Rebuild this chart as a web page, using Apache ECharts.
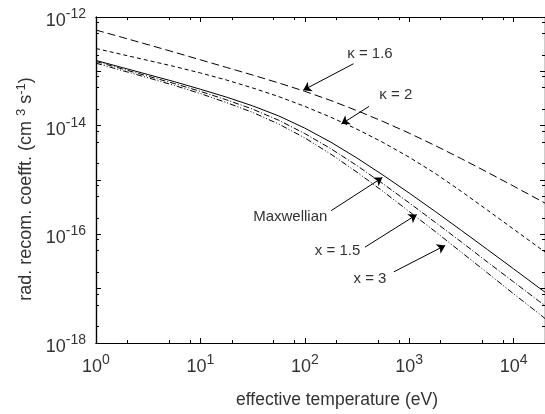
<!DOCTYPE html>
<html>
<head>
<meta charset="utf-8">
<script src="https://cdn.jsdelivr.net/npm/echarts@6/dist/echarts.min.js"></script>
<style>html,body{margin:0;padding:0;background:#fff}#c{width:545px;height:414px}</style>
</head>
<body>
<div id="c"></div>
<script>
// effective temperature (eV)
const temperature = [1, 1.78, 3.16, 5.62, 10, 17.8, 31.6, 56.2, 100, 178, 316, 562,
                     1000, 1780, 3160, 5620, 10000, 17800, 20000];
// radiative recombination coefficient (cm^3 s^-1)
const maxwellian = [1.585e-13, 1.175e-13, 8.71e-14, 6.46e-14, 4.68e-14, 3.35e-14, 2.317e-14, 1.514e-14,
                    9.02e-15, 4.955e-15, 2.54e-15, 1.23e-15, 5.75e-16, 2.63e-16, 1.181e-16, 5.25e-17,
                    2.317e-17, 1.017e-17, 8.63e-18];
const x15 = [1.514e-13, 1.109e-13, 8.13e-14, 5.96e-14, 4.27e-14, 2.985e-14, 2.018e-14, 1.259e-14,
             7.16e-15, 3.76e-15, 1.841e-15, 8.51e-16, 3.80e-16, 1.66e-16, 7.24e-17, 3.09e-17,
             1.334e-17, 5.75e-18, 4.90e-18];
const x3 = [1.413e-13, 1.035e-13, 7.59e-14, 5.50e-14, 3.89e-14, 2.66e-14, 1.758e-14, 1.072e-14,
            5.96e-15, 2.985e-15, 1.396e-15, 6.17e-16, 2.63e-16, 1.122e-16, 4.68e-17, 1.95e-17,
            8.04e-18, 3.39e-18, 2.82e-18];
const kappa2 = [2.63e-13, 2.04e-13, 1.585e-13, 1.23e-13, 9.33e-14, 6.92e-14, 4.95e-14, 3.43e-14,
                2.265e-14, 1.429e-14, 8.61e-15, 4.90e-15, 2.63e-15, 1.318e-15, 6.17e-16, 2.786e-16,
                1.245e-16, 5.56e-17, 4.73e-17];
const kappa16 = [5.75e-13, 4.22e-13, 3.09e-13, 2.25e-13, 1.629e-13, 1.18e-13, 8.55e-14, 6.12e-14,
                 4.29e-14, 2.90e-14, 1.892e-14, 1.194e-14, 7.28e-15, 4.29e-15, 2.47e-15, 1.387e-15,
                 7.71e-16, 4.24e-16, 3.76e-16];

// axis ticks
const xMajor = [1, 10, 100, 1000, 10000];
const xMinor = [2, 5, 8, 20, 50, 80, 200, 500, 800, 2000, 5000, 8000];
const yMajor = [1e-18, 1e-17, 1e-16, 1e-15, 1e-14, 1e-13, 1e-12];
const yMinor = [2e-18, 5e-18, 8e-18, 2e-17, 5e-17, 8e-17, 2e-16, 5e-16, 8e-16,
                2e-15, 5e-15, 8e-15, 2e-14, 5e-14, 8e-14, 2e-13, 5e-13, 8e-13];
const yLabels = [1e-18, 1e-16, 1e-14, 1e-12];

// annotations: [text, textPos, arrowStart, arrowTip]
const annotations = [
  ['κ = 1.6', [421, 2.12e-13], [293, 1.38e-13], [96.6, 4.5e-14]],
  ['κ = 2', [745, 3.66e-14], [412, 2.26e-14], [224, 1.07e-14]],
  ['Maxwellian', [72.6, 2.12e-16], [179, 2.73e-16], [554, 1.11e-15]],
  ['x = 1.5', [206, 4.91e-17], [377, 5.8e-17], [1183, 2.31e-16]],
  ['x = 3', [421, 1.52e-17], [713, 2.04e-17], [2215, 6.25e-17]]
];

const FONT = '"Liberation Sans", Arial, sans-serif';
const TXT = '#333';

function supLabel(v) {
  const e = Math.round(Math.log10(v));
  return '{b|10}{s|' + e + '}';
}
const richSup = {
  b: { fontSize: 18, fontFamily: FONT, color: TXT, verticalAlign: 'bottom', lineHeight: 26 },
  s: { fontSize: 14, fontFamily: FONT, color: TXT, verticalAlign: 'bottom', lineHeight: 26, padding: [0, 0, 9, 0] }
};

function mkX(pos, vals, len, labels, extra) {
  return Object.assign({
    type: 'log', min: 1, max: 20000, position: pos, logBase: 10,
    axisLine: { show: true, lineStyle: { color: '#000', width: 1.2 } },
    axisTick: { show: true, inside: true, length: len, customValues: vals, lineStyle: { color: '#000', width: 1 } },
    minorTick: { show: false },
    splitLine: { show: false },
    axisLabel: labels ? { show: true, customValues: xMajor, formatter: supLabel, rich: richSup, margin: 7 } : { show: false }
  }, extra || {});
}
function mkY(pos, vals, len, labels, extra) {
  return Object.assign({
    type: 'log', min: 1e-18, max: 1e-12, position: pos, logBase: 10,
    axisLine: { show: true, lineStyle: { color: '#000', width: 1.2 } },
    axisTick: { show: true, inside: true, length: len, customValues: vals, lineStyle: { color: '#000', width: 1 } },
    minorTick: { show: false },
    splitLine: { show: false },
    axisLabel: labels ? { show: true, customValues: yLabels, formatter: supLabel, rich: richSup, margin: 10 } : { show: false }
  }, extra || {});
}

function pairs(ys) { return temperature.map((t, i) => [t, ys[i]]); }

function lineSeries(name, ys, type) {
  return {
    name: name, type: 'line', xAxisIndex: 0, yAxisIndex: 0,
    data: pairs(ys), showSymbol: false, symbol: 'none',
    smooth: false, silent: true, animation: false,
    lineStyle: { color: '#000', width: 1, type: type },
    clip: true
  };
}

const arrowSeries = {
  name: 'annotations', type: 'line', xAxisIndex: 0, yAxisIndex: 0, data: [],
  silent: true, animation: false,
  markLine: {
    silent: true, animation: false,
    symbol: ['none', 'arrow'], symbolSize: 8,
    label: { show: false },
    lineStyle: { color: '#000', width: 1, type: 'solid' },
    itemStyle: { color: '#000' },
    data: annotations.map(a => [{ coord: a[2] }, { coord: a[3] }])
  },
  markPoint: {
    silent: true, animation: false,
    symbol: 'rect', symbolSize: 0,
    label: { show: true, position: 'inside', formatter: '{b}', color: TXT, fontSize: 15, fontFamily: FONT },
    data: annotations.map(a => ({ name: a[0], coord: a[1] }))
  }
};

const chart = echarts.init(document.getElementById('c'), null, { renderer: 'canvas' });
chart.setOption({
  animation: false,
  backgroundColor: '#fff',
  textStyle: { fontFamily: FONT },
  grid: { left: 96, top: 17, right: -2, bottom: 67, containLabel: false },
  xAxis: [
    mkX('bottom', xMajor, 5, true, {
      name: 'effective temperature (eV)', nameLocation: 'middle', nameGap: 48,
      nameTextStyle: { fontSize: 17.5, color: TXT, fontFamily: FONT, padding: [0, 0, 0, 33] }
    }),
    mkX('bottom', xMinor, 3, false),
    mkX('top', xMajor, 5, false),
    mkX('top', xMinor, 3, false)
  ],
  yAxis: [
    mkY('left', yMajor, 5, true, {
      name: '{n|rad. recom. coefft. (cm }{s|3}{n| s}{s|-1}{n|)}', nameLocation: 'middle', nameGap: 60, nameRotate: 90,
      nameTextStyle: {
        padding: [0, 18, 0, 0],
        rich: {
          n: { fontSize: 18, color: TXT, fontFamily: FONT, verticalAlign: 'bottom', lineHeight: 22 },
          s: { fontSize: 13, color: TXT, fontFamily: FONT, verticalAlign: 'bottom', lineHeight: 22, padding: [0, 0, 7, 0] }
        }
      }
    }),
    mkY('left', yMinor, 3, false),
    mkY('right', yMajor, 5, false),
    mkY('right', yMinor, 3, false)
  ],
  series: [
    lineSeries('κ = 1.6', kappa16, [8, 4]),
    lineSeries('κ = 2', kappa2, [4, 3]),
    lineSeries('Maxwellian', maxwellian, 'solid'),
    lineSeries('x = 1.5', x15, [6, 2, 1, 2]),
    lineSeries('x = 3', x3, [6, 2, 1, 2, 1, 2]),
    arrowSeries
  ]
});
</script>
</body>
</html>
